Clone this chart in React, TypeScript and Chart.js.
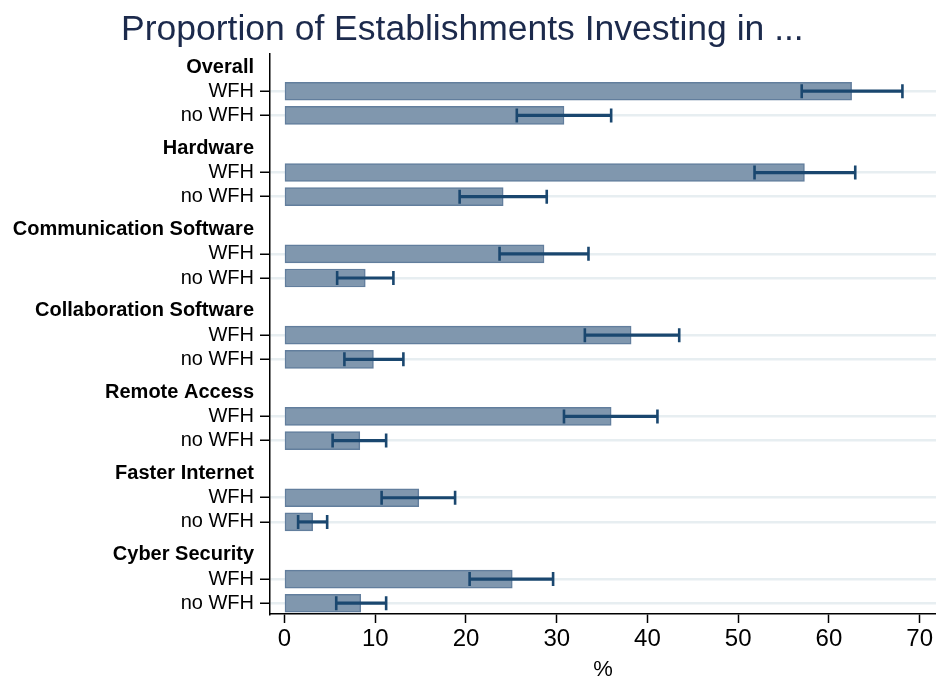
import React, { useEffect, useRef } from "react";
import { Chart, registerables } from "chart.js";

Chart.register(...registerables);

const groups = [
  "Overall",
  "Hardware",
  "Communication Software",
  "Collaboration Software",
  "Remote Access",
  "Faster Internet",
  "Cyber Security",
];
const rowLabels = ["WFH", "no WFH"];

const wfh = [62.5, 57.3, 28.6, 38.2, 36.0, 14.8, 25.1];
const wfhLo = [57.0, 51.8, 23.7, 33.1, 30.8, 10.7, 20.4];
const wfhHi = [68.1, 62.9, 33.5, 43.5, 41.1, 18.8, 29.6];

const noWfh = [30.8, 24.1, 8.9, 9.8, 8.3, 3.1, 8.4];
const noWfhLo = [25.6, 19.3, 5.8, 6.6, 5.3, 1.5, 5.7];
const noWfhHi = [36.0, 28.9, 12.0, 13.1, 11.2, 4.7, 11.2];

const xTicks = [0, 10, 20, 30, 40, 50, 60, 70];

const GROUP_STEP = 3.364;
const FONT = "'Liberation Sans', Arial, Helvetica, sans-serif";

export default function App() {
  const ref = useRef<HTMLCanvasElement | null>(null);

  useEffect(() => {
    if (!ref.current) return;

    const tickPos: number[] = [];
    const tickText: string[] = [];
    const tickHeader: boolean[] = [];
    const barData: { x: number; y: number }[] = [];
    const lo: number[] = [];
    const hi: number[] = [];
    groups.forEach((g, i) => {
      const base = i * GROUP_STEP;
      tickPos.push(base);
      tickText.push(g);
      tickHeader.push(true);
      tickPos.push(base + 1);
      tickText.push(rowLabels[0]);
      tickHeader.push(false);
      tickPos.push(base + 2);
      tickText.push(rowLabels[1]);
      tickHeader.push(false);
      barData.push({ x: wfh[i], y: base + 1 });
      lo.push(wfhLo[i]);
      hi.push(wfhHi[i]);
      barData.push({ x: noWfh[i], y: base + 2 });
      lo.push(noWfhLo[i]);
      hi.push(noWfhHi[i]);
    });

    const errorBars = {
      id: "errorBars",
      afterDatasetsDraw(chart: any) {
        const ctx = chart.ctx;
        const xs = chart.scales.x;
        const meta = chart.getDatasetMeta(0);
        ctx.save();
        ctx.strokeStyle = "#1a476f";
        meta.data.forEach((el: any, i: number) => {
          const y = el.y;
          const x1 = xs.getPixelForValue(lo[i]);
          const x2 = xs.getPixelForValue(hi[i]);
          ctx.lineWidth = 3.2;
          ctx.beginPath();
          ctx.moveTo(x1, y);
          ctx.lineTo(x2, y);
          ctx.stroke();
          ctx.lineWidth = 2.6;
          ctx.beginPath();
          ctx.moveTo(x1, y - 7);
          ctx.lineTo(x1, y + 7);
          ctx.moveTo(x2, y - 7);
          ctx.lineTo(x2, y + 7);
          ctx.stroke();
        });
        ctx.restore();
      },
    };

    const titlePlugin = {
      id: "mainTitle",
      afterDraw(chart: any) {
        const ctx = chart.ctx;
        ctx.save();
        ctx.fillStyle = "#1c2a4c";
        ctx.font = `35.5px ${FONT}`;
        ctx.textAlign = "left";
        ctx.textBaseline = "alphabetic";
        ctx.fillText("Proportion of Establishments Investing in ...", 121, 39.5);
        ctx.restore();
      },
    };

    const chart = new Chart(ref.current, {
      type: "bar",
      data: {
        datasets: [
          {
            data: barData as any,
            backgroundColor: "#8097ae",
            borderColor: "#627e9d",
            borderWidth: 1.5,
            borderSkipped: false,
            barThickness: 18,
          },
        ],
      },
      options: {
        indexAxis: "y",
        animation: false,
        responsive: true,
        maintainAspectRatio: false,
        layout: { padding: { top: 54, left: 0, right: 0, bottom: 0 } },
        plugins: {
          legend: { display: false },
          tooltip: { enabled: false },
          title: { display: false },
        },
        scales: {
          x: {
            type: "linear",
            min: -1.6,
            max: 71.8,
            afterBuildTicks: (scale: any) => {
              scale.ticks = xTicks.map((v) => ({ value: v }));
            },
            afterFit: (scale: any) => {
              scale.height = 62;
            },
            ticks: {
              autoSkip: false,
              maxRotation: 0,
              padding: 2,
              color: "#000",
              font: { family: FONT, size: 24 },
              callback: (v: any) => String(v),
            },
            grid: {
              drawOnChartArea: false,
              drawTicks: true,
              tickLength: 9,
              tickColor: "#000",
              tickWidth: 1.5,
            },
            border: { display: true, color: "#000", width: 1.5 },
            title: {
              display: true,
              text: "%",
              color: "#000",
              font: { family: FONT, size: 22, lineHeight: 0.55 },
              padding: { top: 0, bottom: 0 },
            },
          },
          y: {
            type: "linear",
            reverse: true,
            offset: false,
            min: -0.54,
            max: 22.63,
            afterBuildTicks: (scale: any) => {
              scale.ticks = tickPos.map((v) => ({ value: v }));
            },
            afterFit: (scale: any) => {
              scale.width = 270;
            },
            ticks: {
              autoSkip: false,
              padding: 6,
              color: "#000",
              font: (ctx: any) => ({
                family: FONT,
                size: 20,
                weight: tickHeader[ctx.index] ? "bold" : "normal",
              }),
              callback: (_v: any, i: number) => tickText[i],
            },
            grid: {
              offset: false,
              drawOnChartArea: true,
              drawTicks: true,
              tickLength: 10,
              color: (ctx: any) =>
                tickHeader[ctx.index] ? "rgba(0,0,0,0)" : "#e7eef1",
              lineWidth: 2.5,
              tickColor: (ctx: any) =>
                tickHeader[ctx.index] ? "rgba(0,0,0,0)" : "#000",
              tickWidth: 1.5,
            },
            border: { display: true, color: "#000", width: 1.5 },
          },
        },
      },
      plugins: [errorBars, titlePlugin],
    });

    return () => chart.destroy();
  }, []);

  return (
    <div
      style={{
        position: "fixed",
        left: 0,
        top: 0,
        width: 936,
        height: 676,
        background: "#fff",
      }}
    >
      <canvas ref={ref} />
    </div>
  );
}
